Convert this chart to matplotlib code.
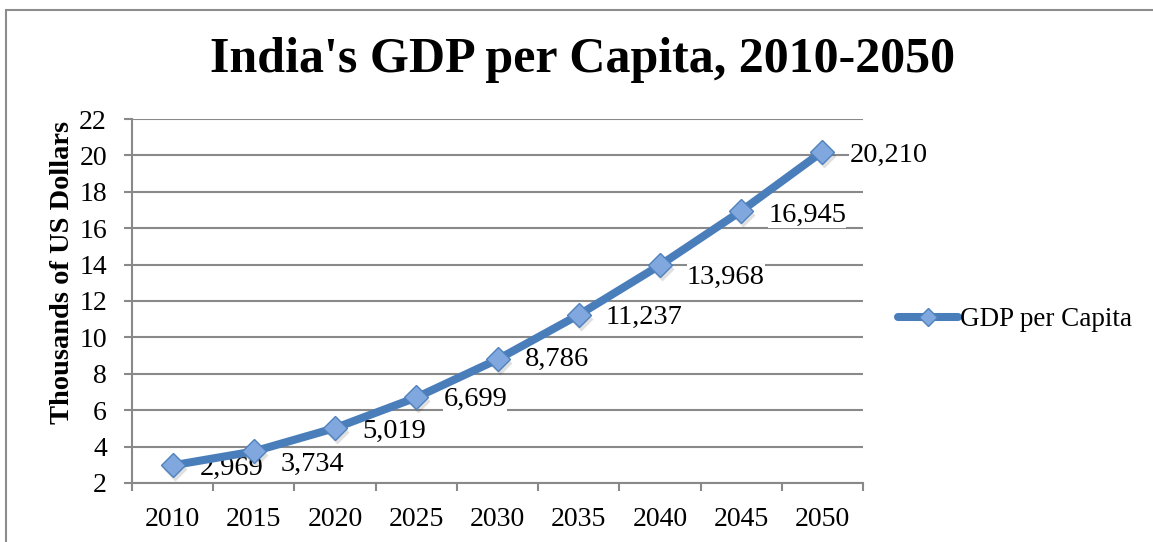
import matplotlib
matplotlib.use('Agg')
import matplotlib.pyplot as plt
import matplotlib.transforms as mtransforms
from matplotlib.lines import Line2D
from matplotlib.patches import Rectangle

years = ['2010', '2015', '2020', '2025', '2030', '2035', '2040', '2045', '2050']
gdp_per_capita = [2969, 3734, 5019, 6699, 8786, 11237, 13968, 16945, 20210]
y_ticks = [2, 4, 6, 8, 10, 12, 14, 16, 18, 20, 22]

# label nudges (pixels) so the value labels don't sit on the line
label_dy = [-3, -13, -3, -2, 0, -3, -12, -4, -4]

plt.rcParams['font.family'] = ['Liberation Serif', 'DejaVu Serif']

LINE = '#4a7ebb'
GRID = '#898989'

fig = plt.figure(figsize=(11.53, 5.42), dpi=100)
ax = fig.add_axes([132 / 1153, 1 - 483 / 542, 731 / 1153, 364 / 542])

xs = list(range(len(years)))
ys = [v / 1000 for v in gdp_per_capita]

# soft drop shadow under the markers
shadow = mtransforms.offset_copy(ax.transData, fig=fig, x=2, y=-4, units='dots')
ax.plot(xs, ys, 'D', ms=12.5, color='black', alpha=0.12, mec='none',
        transform=shadow, zorder=2)
ax.plot(xs, ys, color=LINE, lw=5.8, marker='D', ms=12.5,
        mfc='#80a8de', mec='#4f81bd', mew=1, zorder=3,
        solid_capstyle='round')

for x, y, v, dy in zip(xs, ys, gdp_per_capita, label_dy):
    ax.annotate(f'{v:,}', (x, y), xytext=(27, dy), textcoords='offset pixels',
                ha='left', va='center', fontsize=20.5, zorder=1.5,
                bbox=dict(fc='white', ec='none', pad=0.3))

ax.set_xlim(-0.5, len(years) - 0.5)
ax.set_ylim(2, 22)
ax.set_yticks(y_ticks)
ax.set_xticks(xs, years)
ax.set_xticks([i - 0.5 for i in range(len(years) + 1)], minor=True)

ax.tick_params(axis='x', which='major', length=0, pad=17, labelsize=20)
ax.tick_params(axis='x', which='minor', length=6, width=1.5, color=GRID,
               direction='out')
ax.tick_params(axis='y', length=6, width=1.5, color=GRID, direction='out',
               pad=12, labelsize=20)

ax.grid(axis='y', color=GRID, lw=1.5, zorder=0.5)
ax.set_axisbelow(True)
for side in ['top', 'right']:
    ax.spines[side].set_visible(False)
for side in ['left', 'bottom']:
    ax.spines[side].set_color(GRID)
    ax.spines[side].set_linewidth(1.5)

fig.text(583 / 1153, 1 - 60 / 542, "India's GDP per Capita, 2010-2050",
         ha='center', va='center', fontsize=36, fontweight='bold')
fig.text(63 / 1153, 1 - 272 / 542, 'Thousands of US Dollars', rotation=90,
         ha='center', va='center', fontsize=20.5, fontweight='bold')

handle = Line2D([], [], color=LINE, lw=5.8, marker='D', ms=9,
                mfc='#80a8de', mec='#4f81bd', mew=1, solid_capstyle='round')
fig.legend([handle], ['GDP per Capita'], loc='center left',
           bbox_to_anchor=(898 / 1153, 1 - 320 / 542), frameon=False,
           fontsize=19.5, handlelength=2.2, handletextpad=0.1, borderpad=0,
           borderaxespad=0)

# chart frame
fig.patches.append(Rectangle((6 / 1153, -0.1), 1.2, 1 - 10 / 542 + 0.1,
                             transform=fig.transFigure, fill=False,
                             ec='#8c8c8c', lw=1.5))

fig.savefig('out.png', dpi=100)
